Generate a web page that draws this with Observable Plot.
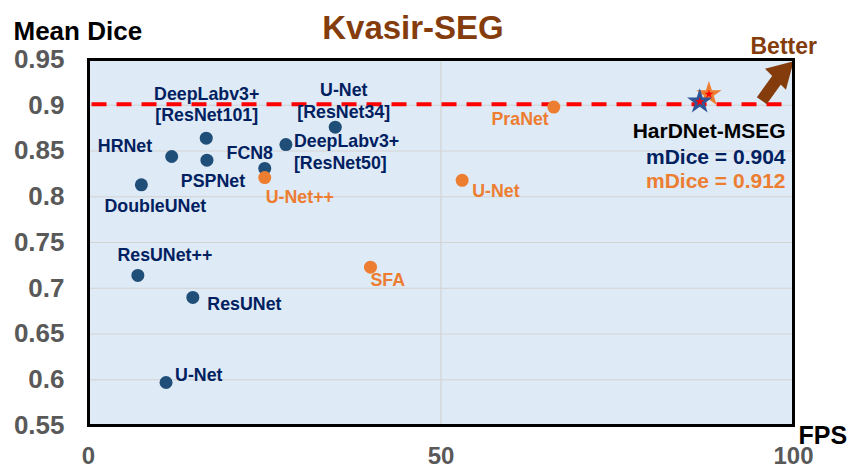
<!DOCTYPE html>
<html><head><meta charset="utf-8">
<script src="https://cdn.jsdelivr.net/npm/d3@7"></script>
<script src="https://cdn.jsdelivr.net/npm/@observablehq/plot@0.6"></script>
<style>body{margin:0;background:#fff;overflow:hidden}</style></head>
<body><div id="chart"></div>
<script>
// ---- data ----
const methods = ["DoubleUNet","HRNet","DeepLabv3+\n[ResNet101]","PSPNet","FCN8","U-Net++","DeepLabv3+\n[ResNet50]","U-Net\n[ResNet34]","ResUNet++","ResUNet","U-Net","SFA","U-Net","PraNet"];
const fps  = [7.5, 11.8, 16.7, 16.8, 25.0, 25.0, 28.0, 35.0, 7.0, 14.8, 11.0, 40.0, 53.0, 66.0];
const dice = [0.813, 0.844, 0.864, 0.840, 0.831, 0.821, 0.857, 0.876, 0.714, 0.690, 0.597, 0.723, 0.818, 0.898];
const series = ["blue","blue","blue","blue","blue","orange","blue","blue","blue","blue","blue","orange","orange","orange"];
const oursName = "HarDNet-MSEG";
const oursFps  = [86.7, 88.0];
const oursDice = [0.904, 0.912];
const oursSeries = ["blue","orange"];
const refDice = 0.901;
const xTicks = [0, 50, 100];
const yTicks = [0.55, 0.6, 0.65, 0.7, 0.75, 0.8, 0.85, 0.9, 0.95];
const arrowPts = [{fps: 95.5, dice: 0.905}, {fps: 98.3, dice: 0.935}];

// ---- label layout (pixels) ----
const labelDx = [14, -19.5, 0.5, 6, -15, 1, 8, 8.5, 27, 14.5, 9, 0, 10, -5];
const labelDy = [27, -4, -17, 27, -9, 25, 24, -9.5, -14, 12.5, -1.5, 19, 17, 18];
const labelAnchor = ["middle","end","middle","middle","middle","start","start","middle","middle","start","start","start","start","end"];

const colors = {blue: "#1F4E79", orange: "#ED7D31"};
const labelColors = {blue: "#002060", orange: "#ED7D31"};
const starColors = {blue: "#2F5597", orange: "#ED7D31"};

const rows = methods.map((m, i) => ({name: m, fps: fps[i], dice: dice[i], s: series[i], dx: labelDx[i], dy: labelDy[i], a: labelAnchor[i]}));
const ours = oursFps.map((f, i) => ({fps: f, dice: oursDice[i], s: oursSeries[i]}));
const oursDraw = [ours[1], ours[0]];

const font = "'Liberation Sans', Arial, Helvetica, sans-serif";

const labelMarks = rows.map(r => Plot.text([r], {
  x: "fps", y: "dice", text: "name", dx: r.dx, dy: r.dy, textAnchor: r.a, lineAnchor: "bottom",
  lineHeight: 1.2, fontSize: 17.8, fontWeight: "bold", fill: labelColors[r.s]
}));

const chart = Plot.plot({
  width: 852, height: 469,
  marginLeft: 88, marginRight: 59, marginTop: 59, marginBottom: 44,
  style: {fontFamily: font, fontWeight: "bold", color: "#595959", background: "#fff"},
  x: {domain: [0, 100]},
  y: {domain: [0.55, 0.95]},
  marks: [
    Plot.frame({fill: "#DEEAF6"}),
    Plot.gridY(yTicks, {stroke: "#D3D3D3", strokeOpacity: 1, strokeWidth: 1.2}),
    Plot.ruleX([50], {stroke: "#D3D3D3", strokeWidth: 1.2}),
    Plot.ruleY([refDice], {x1: 0.5, x2: 99, stroke: "#FF0000", strokeWidth: 4, strokeDasharray: "15,10"}),
    Plot.dot(rows, {x: "fps", y: "dice", r: 6.5, fill: d => colors[d.s]}),
    Plot.dot(oursDraw, {x: "fps", y: "dice", symbol: "star", r: 8, fill: d => starColors[d.s]}),
    Plot.dot(oursDraw, {x: "fps", y: "dice", symbol: "star", r: 2.8, fill: "#FF0000"}),
    ...labelMarks,
    Plot.line(arrowPts, {x: "fps", y: "dice", stroke: "#843C0C", strokeWidth: 12, strokeLinecap: "butt"}),
    Plot.dot([arrowPts[1]], {x: "fps", y: "dice", symbol: "triangle", r: 11, rotate: 45, fill: "#843C0C"}),
    Plot.frame({stroke: "#000", strokeWidth: 3}),
    Plot.axisY({ticks: yTicks, tickSize: 0, tickPadding: 24, fontSize: 26, fontWeight: "bold", tickFormat: d => String(d), label: null}),
    Plot.axisX({ticks: xTicks, tickSize: 0, tickPadding: 21, fontSize: 24, fontWeight: "bold", tickFormat: d => String(d), label: null}),
    Plot.text(["Kvasir-SEG"], {frameAnchor: "top", dx: -28, dy: -21, lineAnchor: "bottom", fontSize: 33, fontWeight: "bold", fill: "#843C0C"}),
    Plot.text(["Mean Dice"], {frameAnchor: "top-left", dx: -75, dy: -20, textAnchor: "start", lineAnchor: "bottom", fontSize: 26, fontWeight: "bold", fill: "#000"}),
    Plot.text(["FPS"], {frameAnchor: "bottom-right", dx: 5, dy: 18, textAnchor: "start", lineAnchor: "bottom", fontSize: 25, fontWeight: "bold", fill: "#000"}),
    Plot.text(["Better"], {frameAnchor: "top-right", dx: -43, dy: -6, textAnchor: "start", lineAnchor: "bottom", fontSize: 23, fontWeight: "bold", fill: "#843C0C"}),
    Plot.text([oursName], {frameAnchor: "top-right", dx: -8, dy: 78, textAnchor: "end", lineAnchor: "bottom", fontSize: 21, fontWeight: "bold", fill: "#000"}),
    Plot.text(["mDice = " + oursDice[0].toFixed(3)], {frameAnchor: "top-right", dx: -8, dy: 104, textAnchor: "end", lineAnchor: "bottom", fontSize: 21, fontWeight: "bold", fill: labelColors.blue}),
    Plot.text(["mDice = " + oursDice[1].toFixed(3)], {frameAnchor: "top-right", dx: -8, dy: 128, textAnchor: "end", lineAnchor: "bottom", fontSize: 21, fontWeight: "bold", fill: labelColors.orange})
  ]
});
document.getElementById("chart").appendChild(chart);
</script>
</body></html>
